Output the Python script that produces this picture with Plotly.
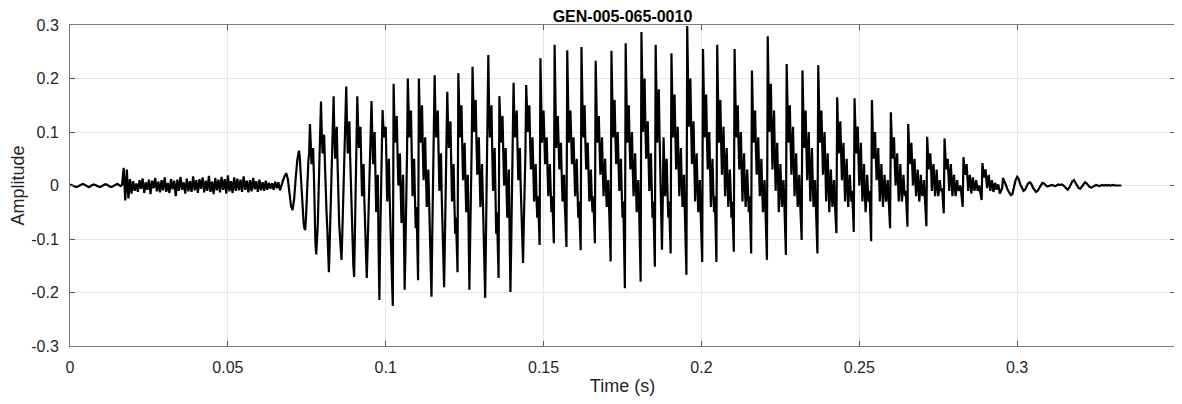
import plotly.graph_objects as go

# waveform values
dt_slow = 0.0005     # lead-in, onset noise, tail
dt_fast = 0.00025    # voiced part

lead_in = [0.002, 0.001, 0.000, -0.002, -0.003, -0.002, 0.000, 0.002, 0.003, 0.002,
           0.000, -0.002, -0.003, -0.001, 0.001, 0.002, 0.001, -0.001, -0.002, -0.003,
           -0.001, 0.001, 0.002, 0.002, 0.000, -0.002, -0.003, -0.002, 0.000, 0.002,
           0.003, 0.001, -0.001, 0.001]

onset_noise = [0.033, -0.028, 0.030, -0.024,
               0.012, -0.015, 0.008, -0.010, 0.004, -0.012, 0.010, -0.006, 0.013, -0.014,
               0.006, -0.008, 0.011, -0.016, 0.009, -0.005, 0.014, -0.011, 0.007, -0.013,
               0.010, -0.009, 0.015, -0.012, 0.005, -0.014, 0.012, -0.007, 0.009, -0.020,
               0.011, -0.010, 0.016, -0.008, 0.006, -0.015, 0.013, -0.011, 0.008, -0.012,
               0.017, -0.009, 0.010, -0.014, 0.012, -0.006, 0.015, -0.013, 0.009, -0.010,
               0.018, -0.012, 0.007, -0.016, 0.014, -0.009, 0.011, -0.013, 0.016, -0.008,
               0.012, -0.015, 0.019, -0.011, 0.008, -0.014, 0.015, -0.010, 0.013, -0.009,
               0.011, -0.012, 0.017, -0.008, 0.009, -0.013, 0.010, -0.011, 0.014, -0.007,
               0.008, -0.012, 0.011, -0.009, 0.006, -0.010, 0.009, -0.008, 0.005]

transition = [-0.006, 0.004, -0.008, 0.007, -0.005, 0.006, -0.009, 0.003, 0.010, 0.018,
              0.023, 0.012, -0.015, -0.038, -0.046, -0.025, 0.015, 0.048]

# one row per pitch period, starting at the main peak
voiced = [
    [0.065, 0.055, 0.030, 0.000, -0.030, -0.055, -0.070, -0.080, -0.083, -0.060, -0.020, 0.020, 0.045, 0.060],
    [0.115, 0.080, 0.040, 0.055, 0.070, 0.020, -0.060, -0.110, -0.129, -0.100, -0.070, -0.010, 0.050, 0.095],
    [0.157, 0.100, 0.060, 0.080, 0.095, 0.040, -0.020, -0.050, -0.080, -0.130, -0.162, -0.110, -0.050, 0.010, 0.080, 0.130],
    [0.167, 0.090, 0.050, 0.090, 0.110, 0.040, -0.030, -0.070, -0.095, -0.120, -0.139, -0.090, -0.040, 0.020, 0.090, 0.140],
    [0.185, 0.110, 0.060, 0.100, 0.120, 0.050, -0.010, -0.060, -0.090, -0.150, -0.171, -0.080, 0.020, 0.110],
    [0.167, 0.110, 0.070, 0.100, 0.110, 0.040, -0.020, 0.020, 0.040, -0.030, -0.080, -0.140, -0.173, -0.120, -0.060, 0.000, 0.070, 0.130],
    [0.158, 0.090, 0.040, 0.080, 0.100, 0.020, -0.050, -0.010, 0.020, -0.120, -0.214, -0.100, -0.020, 0.080],
    [0.141, 0.110, 0.090, 0.100, 0.110, 0.040, -0.030, 0.010, 0.050, -0.020, -0.090, -0.120, -0.180, -0.225],
    [0.190, 0.120, 0.080, 0.110, 0.130, 0.060, 0.000, 0.030, 0.060, -0.010, -0.070, -0.020, 0.020, -0.080, -0.195, -0.120, -0.050, 0.060],
    [0.200, 0.130, 0.090, 0.120, 0.140, 0.060, -0.020, 0.020, 0.050, -0.020, -0.080, -0.040, -0.120, -0.177],
    [0.200, 0.120, 0.080, 0.120, 0.150, 0.070, 0.010, 0.050, 0.090, 0.020, -0.040, -0.010, 0.030, -0.030, -0.090, -0.150, -0.208, -0.090, 0.020, 0.100],
    [0.206, 0.130, 0.090, 0.120, 0.140, 0.060, -0.010, 0.030, 0.060, -0.020, -0.080, -0.140, -0.190, -0.100, -0.030, 0.080],
    [0.175, 0.110, 0.070, 0.100, 0.120, 0.040, -0.030, 0.010, 0.040, -0.030, -0.090, -0.060, -0.110, -0.162],
    [0.210, 0.130, 0.090, 0.130, 0.150, 0.070, 0.010, 0.050, 0.080, 0.010, -0.050, -0.010, 0.020, -0.080, -0.195, -0.100, -0.020, 0.080],
    [0.222, 0.140, 0.100, 0.140, 0.160, 0.080, 0.020, 0.060, 0.090, 0.020, -0.040, 0.000, 0.040, -0.020, -0.080, -0.150, -0.210, -0.100, -0.010, 0.090],
    [0.244, 0.140, 0.090, 0.130, 0.150, 0.060, -0.010, 0.030, 0.070, -0.010, -0.090, -0.050, -0.120, -0.173],
    [0.167, 0.110, 0.080, 0.110, 0.130, 0.060, 0.000, 0.040, 0.070, 0.000, -0.060, -0.020, 0.030, -0.090, -0.199, -0.110, -0.030, 0.070],
    [0.192, 0.120, 0.090, 0.120, 0.140, 0.070, 0.010, 0.040, 0.070, 0.000, -0.070, -0.110, -0.145, -0.070, -0.020, 0.060],
    [0.188, 0.110, 0.100, 0.130, 0.150, 0.080, 0.030, 0.060, 0.090, 0.030, -0.030, 0.010, 0.040, -0.020, -0.060, -0.020, -0.070, -0.111],
    [0.238, 0.120, 0.080, 0.120, 0.140, 0.090, 0.040, 0.070, 0.090, 0.030, -0.020, 0.020, 0.040, -0.010, -0.050, -0.020, -0.060, -0.108],
    [0.263, 0.130, 0.070, 0.110, 0.130, 0.080, 0.030, 0.060, 0.080, 0.020, -0.030, 0.000, 0.020, -0.040, -0.070, -0.115],
    [0.253, 0.130, 0.080, 0.120, 0.140, 0.090, 0.040, 0.070, 0.090, 0.030, -0.020, 0.020, 0.050, -0.010, -0.060, -0.030, -0.080, -0.121],
    [0.259, 0.140, 0.090, 0.130, 0.150, 0.080, 0.030, 0.060, 0.080, 0.020, -0.030, 0.000, 0.030, -0.020, -0.050, -0.020, -0.070, -0.108],
    [0.233, 0.120, 0.080, 0.110, 0.130, 0.070, 0.020, 0.060, 0.090, 0.030, -0.020, 0.020, 0.050, 0.000, -0.040, -0.010, 0.010, -0.040, -0.090, -0.142],
    [0.252, 0.140, 0.090, 0.130, 0.160, 0.090, 0.040, 0.070, 0.100, 0.040, -0.010, 0.020, 0.050, -0.010, -0.060, -0.030, -0.110, -0.192],
    [0.266, 0.140, 0.080, 0.120, 0.150, 0.080, 0.030, 0.070, 0.100, 0.030, -0.020, 0.020, 0.060, 0.000, -0.050, -0.020, 0.010, -0.040, -0.110, -0.180],
    [0.287, 0.160, 0.100, 0.160, 0.200, 0.110, 0.050, 0.090, 0.120, 0.050, -0.010, 0.030, 0.060, 0.000, -0.060, -0.030, -0.090, -0.152],
    [0.263, 0.150, 0.080, 0.140, 0.180, 0.090, 0.020, -0.060, -0.120, -0.030, 0.090, 0.040, -0.020, 0.020, 0.050, -0.010, -0.060, -0.030, -0.080, -0.127],
    [0.247, 0.140, 0.090, 0.140, 0.170, 0.090, 0.030, 0.070, 0.110, 0.040, -0.020, 0.030, 0.070, 0.010, -0.040, -0.010, 0.020, -0.050, -0.110, -0.167],
    [0.298, 0.170, 0.110, 0.160, 0.200, 0.110, 0.040, 0.080, 0.120, 0.040, -0.030, 0.020, 0.060, 0.000, -0.050, -0.020, 0.010, -0.050, -0.100, -0.143],
    [0.255, 0.140, 0.090, 0.140, 0.170, 0.090, 0.030, 0.070, 0.100, 0.030, -0.040, 0.010, 0.050, -0.010, -0.050, -0.020, -0.090, -0.143],
    [0.263, 0.140, 0.080, 0.130, 0.160, 0.080, 0.020, 0.070, 0.110, 0.040, -0.020, 0.030, 0.070, 0.010, -0.040, -0.010, 0.030, -0.010, -0.060, -0.030, -0.080, -0.124],
    [0.255, 0.140, 0.090, 0.130, 0.150, 0.080, 0.030, 0.070, 0.100, 0.030, -0.030, 0.020, 0.060, 0.000, -0.040, -0.010, 0.030, -0.010, -0.050, -0.020, -0.080, -0.127],
    [0.215, 0.120, 0.080, 0.120, 0.140, 0.070, 0.020, 0.060, 0.090, 0.030, -0.020, 0.020, 0.050, -0.010, -0.050, -0.020, 0.010, -0.040, -0.090, -0.139],
    [0.279, 0.160, 0.100, 0.150, 0.190, 0.100, 0.030, 0.090, 0.140, 0.060, -0.010, 0.040, 0.080, 0.020, -0.050, -0.010, 0.040, 0.000, -0.040, -0.010, 0.010, -0.030, -0.080, -0.130],
    [0.227, 0.130, 0.080, 0.120, 0.150, 0.080, 0.020, 0.070, 0.110, 0.040, -0.020, 0.020, 0.060, 0.000, -0.040, -0.010, 0.020, -0.030, -0.060, -0.102],
    [0.215, 0.120, 0.070, 0.110, 0.140, 0.070, 0.010, 0.060, 0.100, 0.030, -0.030, 0.020, 0.070, 0.010, -0.040, -0.010, 0.010, -0.040, -0.080, -0.127],
    [0.225, 0.130, 0.080, 0.120, 0.140, 0.080, 0.020, 0.060, 0.100, 0.040, -0.030, 0.010, 0.060, 0.010, -0.050, -0.010, 0.030, -0.010, -0.040, -0.010, 0.010, -0.030, -0.060, -0.089],
    [0.165, 0.100, 0.060, 0.100, 0.120, 0.060, 0.010, 0.050, 0.080, 0.020, -0.030, 0.010, 0.050, 0.000, -0.040, -0.010, 0.020, -0.010, -0.030, -0.010, -0.050, -0.087],
    [0.163, 0.100, 0.060, 0.090, 0.110, 0.050, 0.000, 0.040, 0.080, 0.020, -0.030, 0.000, 0.040, -0.010, -0.050, -0.020, 0.020, -0.010, -0.030, -0.010, -0.060, -0.104],
    [0.160, 0.090, 0.050, 0.080, 0.100, 0.050, 0.010, 0.040, 0.070, 0.020, -0.030, 0.000, 0.040, 0.000, -0.040, -0.010, 0.020, -0.010, -0.030, -0.010, 0.010, -0.020, -0.050, -0.080],
    [0.137, 0.080, 0.050, 0.070, 0.090, 0.040, 0.000, 0.030, 0.060, 0.010, -0.030, 0.000, 0.040, 0.000, -0.030, -0.010, 0.020, -0.010, -0.020, -0.010, -0.040, -0.077],
    [0.115, 0.070, 0.040, 0.060, 0.080, 0.040, 0.000, 0.030, 0.050, 0.010, -0.020, 0.000, 0.030, 0.000, -0.030, -0.010, 0.020, -0.010, -0.020, -0.010, 0.010, -0.020, -0.040, -0.076],
    [0.091, 0.050, 0.030, 0.050, 0.060, 0.030, -0.010, 0.020, 0.040, 0.010, -0.020, 0.000, 0.030, 0.000, -0.020, -0.010, 0.010, -0.005, -0.010, -0.005, -0.030, -0.052],
    [0.088, 0.050, 0.030, 0.040, 0.050, 0.020, -0.010, 0.020, 0.040, 0.010, -0.020, 0.000, 0.020, 0.000, -0.020, -0.005, 0.010, -0.005, -0.010, -0.005, 0.000, -0.010, -0.025, -0.040],
    [0.053, 0.030, 0.020, 0.030, 0.040, 0.015, -0.010, 0.005, 0.020, 0.005, -0.015, 0.000, 0.015, 0.000, -0.010, 0.000, 0.010, 0.000, -0.010, -0.005, 0.000, -0.010, -0.018, -0.027],
    [0.042, 0.025, 0.015, 0.025, 0.030, 0.010, -0.005, 0.010, 0.020, 0.005, -0.010, 0.000, 0.010, 0.000, -0.012, -0.005, 0.005, 0.000, -0.008, -0.003, 0.002, -0.005, -0.015, -0.012, -0.008, -0.005],
]

tail = [0.014, 0.008, 0.000, -0.008, -0.014, -0.018, -0.016, -0.004, 0.010, 0.016,
        0.012, 0.002, -0.006, -0.010, -0.008, -0.002, 0.004, 0.006, 0.003, -0.004,
        -0.009, -0.012, -0.010, -0.004, 0.002, 0.005, 0.004, 0.000, -0.002, -0.001,
        0.000, 0.001, 0.000, -0.001, 0.000, 0.002, 0.001, 0.002, 0.001, -0.002,
        -0.006, -0.008, -0.004, 0.003, 0.008, 0.010, 0.006, 0.000, -0.005, -0.006,
        -0.002, 0.003, 0.006, 0.004, 0.000, -0.003, -0.004, -0.002, 0.000, 0.001,
        0.000, -0.001, 0.000, 0.001, 0.000, 0.001, 0.000, 0.001, 0.000, 0.001,
        0.001, 0.000, 0.000, 0.001, 0.000, 0.000]

x_ticks = [0, 0.05, 0.1, 0.15, 0.2, 0.25, 0.3, 0.35]
x_tick_labels = ['0', '0.05', '0.1', '0.15', '0.2', '0.25', '0.3', '0.35']
y_ticks = [-0.3, -0.2, -0.1, 0, 0.1, 0.2, 0.3]
y_tick_labels = ['-0.3', '-0.2', '-0.1', '0', '0.1', '0.2', '0.3']

voiced_flat = [v for cyc in voiced for v in cyc]
segments = [(lead_in + onset_noise + transition, dt_slow),
            (voiced_flat, dt_fast),
            (tail, dt_slow)]

t, amp = [], []
t0 = 0.0
for vals, step in segments:
    for i, v in enumerate(vals):
        t.append(t0 + i * step)
        amp.append(v)
    t0 += len(vals) * step

fig = go.Figure()
fig.add_trace(go.Scatter(x=t, y=amp, mode='lines',
                         line=dict(color='black', width=2.2)))

axis_style = dict(showline=True, linecolor='#7a7a7a', linewidth=1, mirror='ticks',
                  ticks='inside', ticklen=5, tickcolor='#555555',
                  showgrid=True, gridcolor='#e6e6e6', zeroline=False, automargin=False,
                  tickfont=dict(family='Liberation Sans', size=16, color='#262626'))

# page body has an 8px offset, margins account for it
fig.update_layout(
    width=1182, height=404,
    margin=dict(l=62, r=15, t=17, b=66),
    paper_bgcolor='white', plot_bgcolor='white',
    showlegend=False,
    title=dict(text='<b>GEN-005-065-0010</b>', x=0.5, xref='paper', xanchor='center',
               y=1, yref='paper', yanchor='bottom', pad=dict(b=3),
               font=dict(family='Liberation Sans', size=16, color='black')),
    xaxis=dict(range=[0, 0.35], tickvals=x_ticks, ticktext=x_tick_labels,
               ticklabelstandoff=7,
               title=dict(text='Time (s)', standoff=4,
                          font=dict(family='Liberation Sans', size=18, color='#262626')),
               **axis_style),
    yaxis=dict(range=[-0.3, 0.3], tickvals=y_ticks, ticktext=y_tick_labels,
               ticklabelstandoff=7,
               title=dict(text='Amplitude', standoff=8,
                          font=dict(family='Liberation Sans', size=18, color='#262626')),
               **axis_style),
)

fig.write_html("out.html")
